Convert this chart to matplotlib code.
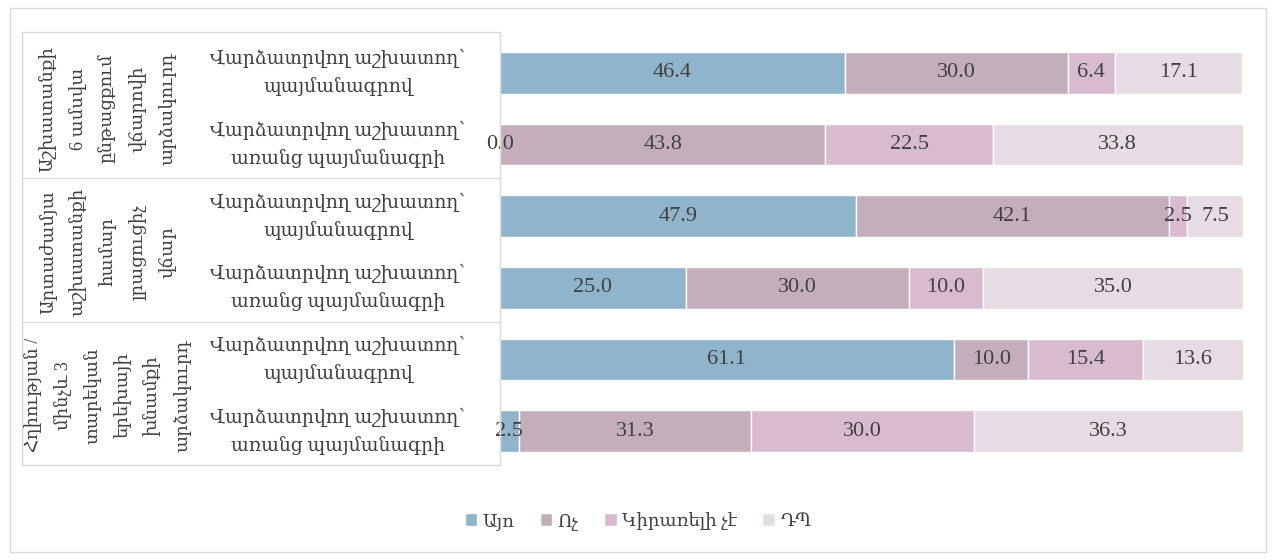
import matplotlib
matplotlib.use('Agg')
import matplotlib.pyplot as plt
import matplotlib.patches as patches
from matplotlib.lines import Line2D
import numpy as np

plt.rcParams['font.family'] = ['Liberation Serif', 'DejaVu Serif', 'DejaVu Sans']

W, H = 1276, 560

series = ['Այո', 'Ոչ', 'Կիրառելի չէ', 'ԴՊ']
colors = ['#8FB4CB', '#C4AEBC', '#D9BBD1', '#E7DCE3']

groups = [
    'Աշխատանքի\n6 ամսվա\nընթացքում\nվճարովի\nարձակուրդ',
    'Արտաժամյա\nաշխատանքի\nհամար\nլրացուցիչ\nվճար',
    'Հղիության /\nմինչև 3\nտարեկան\nերեխայի\nխնամքի\nարձակուրդ',
]
rows = [
    'Վարձատրվող աշխատող՝\nպայմանագրով',
    'Վարձատրվող աշխատող՝\nառանց պայմանագրի',
] * 3

# one list per answer, rows top to bottom
yes = [46.4, 0.0, 47.9, 25.0, 61.1, 2.5]
no = [30.0, 43.8, 42.1, 30.0, 10.0, 31.3]
not_applicable = [6.4, 22.5, 2.5, 10.0, 15.4, 30.0]
dont_know = [17.1, 33.8, 7.5, 35.0, 13.6, 36.3]
values = [yes, no, not_applicable, dont_know]


def fx(x):
    return x / W


def fy(y):
    return 1 - y / H


fig = plt.figure(figsize=(W / 100, H / 100), dpi=100)
ax = fig.add_axes([fx(500), fy(467), fx(743), 430 / H])

y = np.arange(len(rows))
left = np.zeros(len(rows))
for name, vals, color in zip(series, values, colors):
    bars = ax.barh(y, vals, left=left, height=0.58, color=color,
                   edgecolor='white', linewidth=1, label=name)
    ax.bar_label(bars, labels=[f'{v:.1f}' for v in vals], label_type='center',
                 fontsize=16, color='#404040')
    left += np.array(vals)

ax.set_xlim(0, 100)
ax.set_ylim(len(rows) - 0.5, -0.5)
ax.axis('off')

# category table on the left
grid = '#D9D9D9'
for yy in [32, 178, 322, 465]:
    fig.add_artist(Line2D([fx(22), fx(500)], [fy(yy), fy(yy)], color=grid, lw=1))
for xx in [22, 500]:
    fig.add_artist(Line2D([fx(xx), fx(xx)], [fy(32), fy(465)], color=grid, lw=1))

tr = ax.get_yaxis_transform()
for i, label in enumerate(rows):
    ax.text((338 - 500) / 743, i, label, transform=tr, ha='center', va='center',
            fontsize=13.5, color='#404040', linespacing=1.6)
for g, label in enumerate(groups):
    ax.text((108 - 500) / 743, 2 * g + 0.5, label, transform=tr, ha='center',
            va='center', rotation=90, fontsize=13, color='#404040',
            linespacing=1.85, multialignment='center')

fig.legend(loc='center', bbox_to_anchor=(0.5, fy(521)), ncol=4,
           frameon=False, fontsize=13, handlelength=0.7, handleheight=0.7,
           handletextpad=0.3, columnspacing=1.4, labelcolor='#404040')

fig.patches.append(patches.Rectangle((fx(10), fy(552)), fx(1256), 544 / H,
                                     transform=fig.transFigure, fill=False,
                                     edgecolor=grid, lw=1))

fig.savefig('out.png', dpi=100)
